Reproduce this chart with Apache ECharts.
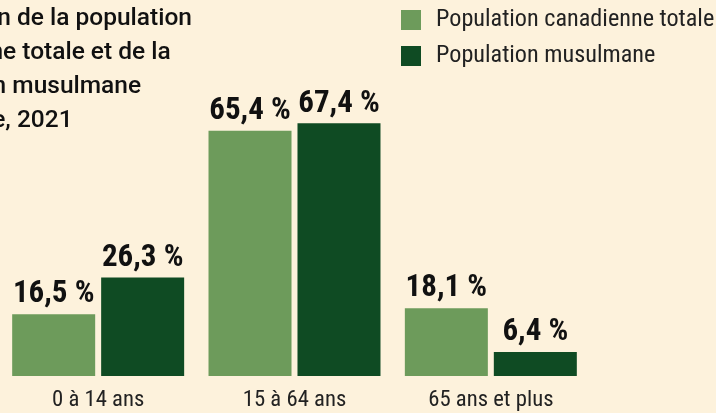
<!DOCTYPE html>
<html><head><meta charset="utf-8">
<script src="https://cdn.jsdelivr.net/npm/echarts@6/dist/echarts.min.js"></script>
<style>html,body{margin:0;padding:0;background:#fdf2dc;}#c{width:716px;height:413px;}</style>
</head><body><div id="c"></div>
<script>
var categories = ['0 à 14 ans', '15 à 64 ans', '65 ans et plus'];
var totalPop = [16.5, 65.4, 18.1];
var muslimPop = [26.3, 67.4, 6.4];
var seriesNames = ['Population canadienne totale', 'Population musulmane'];
var titleLines = ['Répartition de la population', 'canadienne totale et de la', 'population musulmane', "selon l'âge, 2021"];

var FONT = '"Roboto Condensed", "Roboto", sans-serif';
var TITLE_FAMILY = 'Roboto, sans-serif';
var TITLE_SIZE = 24.5;
var ctx = document.createElement('canvas').getContext('2d');
ctx.font = '500 ' + TITLE_SIZE + 'px Roboto';
var titleX = 192 - ctx.measureText(titleLines[0]).width;

function fmt(p) { return p.value.toFixed(1).replace('.', ',') + ' %'; }

var chart = echarts.init(document.getElementById('c'));
chart.setOption({
  backgroundColor: '#fdf2dc',
  animation: false,
  graphic: [{
    type: 'text', left: titleX, top: 2,
    style: { text: titleLines.join('\n'), fontFamily: TITLE_FAMILY, fontSize: TITLE_SIZE, fontWeight: 500, fill: '#111', lineHeight: 34 }
  }],
  legend: {
    orient: 'vertical', left: 401, top: 8, itemWidth: 20, itemHeight: 20, itemGap: 12,
    icon: 'rect', padding: 0,
    textStyle: { fontFamily: FONT, fontSize: 24.2, lineHeight: 20, color: '#222', padding: [0, 0, 0, 10] },
    data: seriesNames
  },
  grid: { left: -5, width: 594, top: 76, bottom: 37 },
  xAxis: {
    type: 'category', data: categories,
    axisLine: { show: false }, axisTick: { show: false },
    axisLabel: { fontFamily: FONT, fontSize: 22.7, color: '#222', margin: 13 }
  },
  yAxis: { type: 'value', min: 0, max: 80, show: false, splitLine: { show: false } },
  series: [
    { name: seriesNames[0], type: 'bar', data: totalPop, barWidth: 83, barGap: '7.2%',
      itemStyle: { color: '#6d9b5b' },
      label: { show: true, position: 'top', distance: 4, formatter: fmt, fontFamily: FONT, fontWeight: 'bold', fontSize: 31, color: '#111' } },
    { name: seriesNames[1], type: 'bar', data: muslimPop, barWidth: 83,
      itemStyle: { color: '#0f4b23' },
      label: { show: true, position: 'top', distance: 4, formatter: fmt, fontFamily: FONT, fontWeight: 'bold', fontSize: 31, color: '#111' } }
  ]
});
</script></body></html>
